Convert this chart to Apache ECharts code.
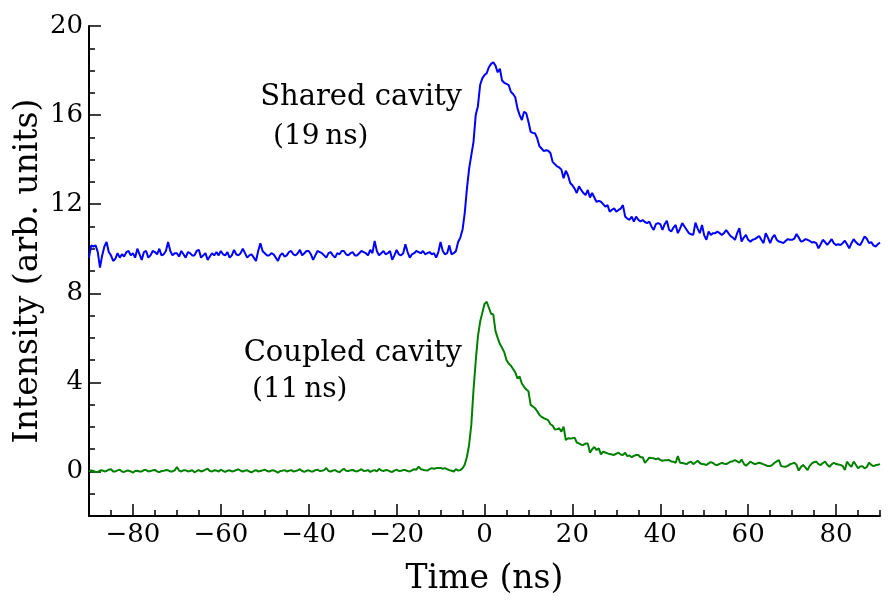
<!DOCTYPE html>
<html>
<head>
<meta charset="utf-8">
<script src="https://cdn.jsdelivr.net/npm/echarts@6/dist/echarts.min.js"></script>
<style>
html,body{margin:0;padding:0;background:#fff;}
#chart{width:888px;height:605px;}
</style>
</head>
<body>
<div id="chart"></div>
<script>
// Time grid (ns): -90 .. 90, 0.5 ns spacing (each row below = 5 ns)
const timeStart = -90;
const timeStep = 0.5;

// Shared cavity (blue)
const sharedCavity = [
  9.6, 10.15, 10.1, 10.15, 9.85, 9.15, 9.7, 10.1, 10.3, 9.85,
  9.7, 9.45, 9.55, 9.8, 9.6, 9.75, 9.65, 9.85, 9.9, 9.7,
  9.8, 9.6, 10.0, 9.75, 9.5, 9.85, 9.9, 9.6, 9.7, 9.9,
  9.85, 9.75, 10.0, 9.7, 9.75, 9.9, 10.3, 9.9, 9.7, 9.8,
  9.8, 9.65, 9.9, 9.75, 9.6, 9.85, 9.8, 9.7, 9.7, 9.9,
  9.95, 9.6, 9.7, 9.8, 9.5, 9.65, 9.8, 9.7, 9.85, 9.7,
  9.9, 9.75, 9.7, 9.85, 9.6, 9.7, 9.95, 9.75, 9.7, 9.8,
  10.0, 9.8, 9.6, 9.7, 9.75, 9.6, 9.45, 9.9, 10.25, 9.9,
  9.8, 9.7, 9.7, 9.8, 9.75, 9.6, 9.45, 9.7, 9.8, 9.65,
  9.7, 9.85, 9.9, 9.75, 9.7, 9.8, 9.95, 9.7, 9.8, 9.9,
  9.9, 9.75, 9.5, 9.7, 9.9, 9.85, 9.8, 9.7, 9.6, 9.8,
  9.85, 9.7, 9.6, 9.8, 9.75, 9.9, 9.9, 9.75, 9.7, 9.8,
  9.85, 9.7, 9.7, 9.8, 9.9, 9.85, 9.8, 9.7, 9.95, 9.8,
  10.35, 9.9, 9.7, 9.8, 9.9, 9.75, 9.8, 9.9, 9.5, 9.7,
  9.95, 9.75, 9.7, 9.8, 10.2, 9.85, 9.6, 9.75, 9.8, 9.9,
  9.85, 9.8, 9.9, 9.75, 9.8, 9.85, 9.75, 9.8, 9.6, 9.85,
  10.3, 9.9, 9.75, 9.8, 10.15, 9.75, 9.8, 9.9, 10.3, 10.5,
  10.85, 11.6, 12.7, 13.6, 14.2, 14.8, 16.0, 16.4, 17.35, 17.65,
  17.8, 17.88, 18.15, 18.3, 18.37, 18.22, 17.92, 18.08, 17.55, 17.45,
  17.4, 17.35, 17.05, 16.95, 16.8, 16.3, 16.0, 15.78, 16.15, 16.08,
  15.7, 15.25, 15.2, 15.18, 14.95, 14.6, 14.5, 14.38, 14.42, 14.4,
  14.3, 13.9, 13.8, 13.7, 13.65, 13.55, 13.16, 13.5, 13.3, 12.95,
  12.85, 12.7, 12.5, 12.8, 12.64, 12.5, 12.41, 12.64, 12.3, 12.5,
  12.3, 12.1, 12.15, 12.11, 12.0, 11.89, 11.96, 11.66, 11.75, 11.81,
  11.66, 11.74, 11.8, 11.96, 11.45, 11.35, 11.3, 11.44, 11.22, 11.44,
  11.3, 11.22, 11.29, 11.2, 11.15, 11.22, 11.0, 10.84, 11.1, 11.15,
  11.1, 10.84, 11.1, 11.26, 10.85, 10.77, 10.95, 11.07, 10.7, 10.9,
  11.15, 11.0, 10.85, 10.7, 10.65, 10.62, 11.17, 10.9, 10.7, 11.07,
  10.6, 10.4, 10.77, 10.62, 10.7, 10.7, 10.77, 10.7, 10.62, 10.7,
  10.84, 10.7, 10.57, 10.5, 10.4, 10.7, 10.92, 10.32, 10.5, 10.62,
  10.4, 10.32, 10.4, 10.43, 10.5, 10.57, 10.4, 10.25, 10.7, 10.5,
  10.25, 10.5, 10.62, 10.4, 10.32, 10.3, 10.25, 10.35, 10.43, 10.4,
  10.4, 10.45, 10.66, 10.5, 10.32, 10.35, 10.43, 10.4, 10.35, 10.28,
  10.3, 10.25, 10.02, 10.2, 10.4, 10.3, 10.17, 10.3, 10.43, 10.25,
  10.17, 10.2, 10.17, 10.25, 10.36, 10.2, 10.02, 10.25, 10.43, 10.3,
  10.2, 10.17, 10.35, 10.55, 10.45, 10.25, 10.3, 10.15, 10.1, 10.2,
  10.28
];

// Coupled cavity (green)
const coupledCavity = [
  0.0, 0.05, 0.02, -0.02, -0.03, 0.04, 0.05, 0.0, 0.02, 0.08,
  0.1, 0.0, 0.0, 0.05, 0.08, 0.0, -0.02, 0.03, 0.04, 0.0,
  -0.05, 0.02, 0.03, 0.0, 0.0, 0.06, 0.06, 0.0, 0.02, 0.05,
  0.07, 0.0, -0.03, 0.02, 0.03, 0.06, 0.05, 0.0, 0.0, 0.05,
  0.2, 0.04, 0.0, 0.05, 0.05, 0.0, 0.02, 0.06, -0.04, 0.02,
  0.06, 0.0, 0.03, 0.08, 0.12, 0.02, 0.0, 0.05, 0.04, 0.0,
  0.08, 0.02, -0.02, 0.03, 0.05, 0.0, 0.02, 0.06, 0.1, 0.03,
  0.0, 0.04, 0.05, 0.0, -0.04, 0.02, 0.06, 0.0, 0.02, 0.05,
  0.08, 0.02, 0.0, 0.04, 0.05, 0.0, -0.05, 0.02, 0.03, 0.06,
  0.0, 0.03, 0.06, 0.0, 0.02, 0.05, 0.1, 0.02, -0.02, 0.03,
  0.05, 0.0, 0.0, 0.06, 0.08, 0.02, 0.03, 0.06, 0.15, 0.02,
  0.0, 0.04, 0.06, 0.0, -0.03, 0.05, 0.12, 0.03, 0.02, 0.05,
  0.07, 0.02, 0.0, 0.05, 0.1, 0.02, 0.03, 0.06, -0.02, 0.03,
  0.06, 0.0, 0.12, 0.05, 0.02, 0.06, 0.05, 0.0, -0.02, 0.04,
  0.08, 0.02, 0.03, 0.06, 0.06, 0.02, 0.0, 0.05, 0.1, 0.08,
  0.22, 0.1, 0.08, 0.05, 0.04, 0.1, 0.15, 0.12, 0.14, 0.16,
  0.16, 0.12, 0.15, 0.1, 0.06, 0.03, 0.0, 0.1, 0.04, 0.06,
  0.14, 0.3, 0.66, 1.2, 2.1, 3.66, 4.95, 6.05, 6.72, 7.12,
  7.52, 7.62, 7.35, 7.08, 7.05, 6.3, 6.0, 5.72, 5.55, 5.35,
  5.0, 4.85, 4.75, 4.6, 4.45, 4.18, 4.26, 3.95, 3.8, 3.68,
  3.6, 2.99, 2.92, 2.84, 2.7, 2.54, 2.45, 2.39, 2.35, 2.3,
  2.12, 2.06, 1.88, 1.9, 1.94, 1.79, 2.01, 1.41, 1.49, 1.48,
  1.49, 1.52, 1.3, 1.26, 1.2, 1.19, 1.25, 1.26, 0.84, 1.0,
  1.1, 0.96, 1.04, 0.77, 0.89, 0.85, 0.81, 0.78, 0.76, 0.74,
  0.8, 0.84, 0.76, 0.74, 0.84, 0.69, 0.72, 0.64, 0.7, 0.74,
  0.74, 0.64, 0.64, 0.39, 0.5, 0.62, 0.6, 0.59, 0.55, 0.59,
  0.52, 0.48, 0.5, 0.5, 0.51, 0.45, 0.44, 0.39, 0.69, 0.39,
  0.38, 0.36, 0.33, 0.4, 0.44, 0.33, 0.4, 0.48, 0.38, 0.33,
  0.32, 0.29, 0.36, 0.42, 0.38, 0.3, 0.29, 0.34, 0.39, 0.35,
  0.33, 0.38, 0.44, 0.46, 0.51, 0.45, 0.39, 0.54, 0.35, 0.26,
  0.35, 0.44, 0.38, 0.33, 0.36, 0.39, 0.36, 0.32, 0.28, 0.24,
  0.24, 0.3, 0.39, 0.45, 0.51, 0.24, 0.22, 0.21, 0.25, 0.32,
  0.35, 0.39, 0.3, 0.04, 0.2, 0.29, 0.18, 0.06, 0.25, 0.36,
  0.42, 0.44, 0.33, 0.29, 0.38, 0.44, 0.3, 0.21, 0.32, 0.39,
  0.33, 0.31, 0.29, 0.25, 0.06, 0.44, 0.3, 0.21, 0.44, 0.3,
  0.14, 0.22, 0.24, 0.14, 0.2, 0.39, 0.3, 0.24, 0.28, 0.3,
  0.33
];

// Axis ticks
const xMajorTicks = [-80, -60, -40, -20, 0, 20, 40, 60, 80];
const yMajorTicks = [0, 4, 8, 12, 16, 20];

// Annotations
const labelShared = ['Shared cavity', '(19\u2009ns)'];
const labelCoupled = ['Coupled cavity', '(11\u2009ns)'];

const FONT = '"DejaVu Serif", serif';
const times = sharedCavity.map((_, i) => timeStart + i * timeStep);
const pair = arr => arr.map((v, i) => [times[i], v]);
const fmtMinus = v => (v < 0 ? '\u2212' + Math.abs(v) : String(v));

const chart = echarts.init(document.getElementById('chart'), null, { renderer: 'canvas' });
const axisLineStyle = { color: '#000', width: 2 };
const tickStyle = { color: '#000', width: 1.5 };

chart.setOption({
  animation: false,
  backgroundColor: '#fff',
  grid: { left: 89, right: 8, top: 26, bottom: 89, containLabel: false, outerBoundsMode: 'none' },
  xAxis: [
    {
      type: 'value', position: 'bottom', min: -90, max: 90, interval: 5,
      axisLine: { show: true, lineStyle: axisLineStyle, onZero: false },
      axisTick: { show: true, inside: true, length: 6, lineStyle: tickStyle },
      axisLabel: { show: false },
      splitLine: { show: false }
    },
    {
      type: 'value', position: 'bottom', min: -90, max: 90,
      axisLine: { show: false, onZero: false },
      axisTick: { show: true, inside: true, length: 12, lineStyle: tickStyle, customValues: xMajorTicks },
      axisLabel: { show: true, customValues: xMajorTicks, formatter: fmtMinus, color: '#000', fontFamily: FONT, fontSize: 26, margin: 6 },
      splitLine: { show: false },
      name: 'Time (ns)', nameLocation: 'middle', nameGap: 47, nameMoveOverlap: false,
      nameTextStyle: { color: '#000', fontFamily: FONT, fontSize: 33 }
    }
  ],
  yAxis: [
    {
      type: 'value', position: 'left', min: -2, max: 20, interval: 1,
      axisLine: { show: true, lineStyle: axisLineStyle, onZero: false },
      axisTick: { show: true, inside: true, length: 6, lineStyle: tickStyle },
      axisLabel: { show: false },
      splitLine: { show: false }
    },
    {
      type: 'value', position: 'left', min: -2, max: 20,
      axisLine: { show: false, onZero: false },
      axisTick: { show: true, inside: true, length: 12, lineStyle: tickStyle, customValues: yMajorTicks },
      axisLabel: { show: true, customValues: yMajorTicks, formatter: fmtMinus, color: '#000', fontFamily: FONT, fontSize: 26, margin: 6 },
      splitLine: { show: false },
      name: 'Intensity (arb. units)', nameLocation: 'middle', nameGap: 44, nameRotate: 90, nameMoveOverlap: false,
      nameTextStyle: { color: '#000', fontFamily: FONT, fontSize: 33 }
    }
  ],
  series: [
    {
      name: 'Shared cavity', type: 'line', xAxisIndex: 0, yAxisIndex: 0,
      data: pair(sharedCavity), showSymbol: false, symbol: 'none',
      lineStyle: { color: '#0000ff', width: 2 }, itemStyle: { color: '#0000ff' }, z: 3
    },
    {
      name: 'Coupled cavity', type: 'line', xAxisIndex: 0, yAxisIndex: 0,
      data: pair(coupledCavity), showSymbol: false, symbol: 'none',
      lineStyle: { color: '#008000', width: 2 }, itemStyle: { color: '#008000' }, z: 3
    }
  ],
  graphic: [
    { type: 'text', x: 462, y: 97, style: { text: labelShared[0], align: 'right', verticalAlign: 'middle', fill: '#000', fontFamily: FONT, fontSize: 29 } },
    { type: 'text', x: 273, y: 137, style: { text: labelShared[1], align: 'left', verticalAlign: 'middle', fill: '#000', fontFamily: FONT, fontSize: 28 } },
    { type: 'text', x: 462, y: 353, style: { text: labelCoupled[0], align: 'right', verticalAlign: 'middle', fill: '#000', fontFamily: FONT, fontSize: 29 } },
    { type: 'text', x: 252, y: 390, style: { text: labelCoupled[1], align: 'left', verticalAlign: 'middle', fill: '#000', fontFamily: FONT, fontSize: 28 } }
  ]
});
</script>
</body>
</html>
